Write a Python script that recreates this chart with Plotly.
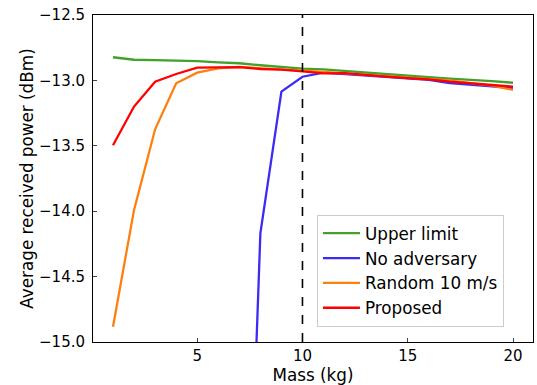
import plotly.graph_objects as go

mass = list(range(1, 21))

upper_limit = [-12.823, -12.842, -12.845, -12.849, -12.852, -12.862, -12.869, -12.884, -12.895, -12.910,
               -12.915, -12.928, -12.941, -12.953, -12.966, -12.976, -12.987, -12.995, -13.005, -13.018]
no_adversary = [None, None, None, None, None, None, -18.7, -14.17, -13.086, -12.972,
                -12.940, -12.950, -12.962, -12.975, -12.985, -12.995, -13.020, -13.035, -13.045, -13.058]
random_10 = [-14.883, -13.99, -13.374, -13.022, -12.941, -12.908, -12.897, -12.905, -12.915, -12.925,
             -12.935, -12.945, -12.955, -12.965, -12.975, -12.985, -13.000, -13.020, -13.040, -13.073]
proposed = [-13.496, -13.20, -13.010, -12.951, -12.903, -12.903, -12.898, -12.913, -12.918, -12.931,
            -12.946, -12.944, -12.959, -12.971, -12.982, -12.992, -13.010, -13.025, -13.035, -13.048]

threshold_mass = 10
y_ticks = [-15.0, -14.5, -14.0, -13.5, -13.0, -12.5]
x_ticks = [5, 10, 15, 20]

series = [
    ("Upper limit", upper_limit, "#43a02a"),
    ("No adversary", no_adversary, "#3b2cf5"),
    ("Random 10 m/s", random_10, "#ff7f0e"),
    ("Proposed", proposed, "#ff0000"),
]

fig = go.Figure()
for name, vals, color in series:
    fig.add_trace(go.Scatter(x=mass, y=vals, mode="lines", name=name,
                             line=dict(color=color, width=2.3), connectgaps=False))

fig.add_shape(type="line", x0=threshold_mass, x1=threshold_mass, y0=0, y1=1, xref="x", yref="paper",
              line=dict(color="black", width=1.6, dash="dash"))

tick_font = dict(family="DejaVu Sans", size=15, color="black")
title_font = dict(family="DejaVu Sans", size=16.8, color="black")
fig.update_layout(
    width=537, height=385,
    margin=dict(l=93, r=4, t=15, b=43),
    plot_bgcolor="white", paper_bgcolor="white",
    font=dict(family="DejaVu Sans", size=15, color="black"),
    showlegend=True,
    legend=dict(x=0.509, y=0.389, xanchor="left", yanchor="top",
                bordercolor="#cccccc", borderwidth=1, bgcolor="white",
                itemwidth=37,
                font=dict(family="DejaVu Sans", size=16.8, color="black")),
    xaxis=dict(range=[0.05, 20.95], tickvals=x_ticks, ticks="inside", ticklen=4,
               tickfont=tick_font,
               showline=True, linecolor="black", linewidth=1, mirror=True,
               showgrid=False, zeroline=False,
               title=dict(text="Mass (kg)", standoff=4, font=title_font)),
    yaxis=dict(range=[-15.0, -12.5], tickvals=y_ticks, tickformat=".1f", ticks="inside", ticklen=4,
               tickfont=tick_font, ticklabelstandoff=4,
               showline=True, linecolor="black", linewidth=1, mirror=True,
               showgrid=False, zeroline=False,
               title=dict(text="Average received power (dBm)", standoff=1, font=title_font)),
)

fig.write_html("out.html")
